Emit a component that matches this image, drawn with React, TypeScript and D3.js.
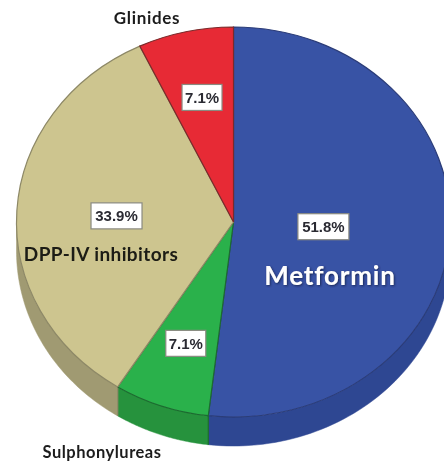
import * as d3 from 'd3';
import React from 'react';

const drugs = ['Metformin', 'Sulphonylureas', 'DPP-IV inhibitors', 'Glinides'];
const shares = [51.8, 7.1, 33.9, 7.1];
const shareLabels = ['51.8%', '7.1%', '33.9%', '7.1%'];

const topColors = ['#3953a5', '#2cb14b', '#cdc58f', '#e72b36'];
const sideColors = ['#2f4792', '#27923c', '#a09a72', '#b82029'];
const edgeColors = ['#2a3c78', '#1c6b30', '#8d8866', '#7a2a2a'];

// how far out along each slice the percent box sits
const boxFractions = [0.415, 0.66, 0.54, 0.655];

const W = 444;
const H = 468;
const cx = 233.5;
const cy = 222;
const rx = 217;
const ry = 195;
const depth = 29;
const squash = ry / rx;

const pie = d3.pie<number>().sort(null).value((d) => d);
const slices = pie(shares);
const arc = d3.arc<d3.PieArcDatum<number>>().innerRadius(0).outerRadius(rx);

function sidePath(a0: number, a1: number) {
  const from = Math.max(a0, Math.PI / 2);
  const to = Math.min(a1, (3 * Math.PI) / 2);
  if (to <= from) return null;
  const angles = d3.range(0, 61).map((i) => from + ((to - from) * i) / 60);
  const line = d3.line<[number, number]>();
  const top = angles.map((a) => [rx * Math.sin(a), -ry * Math.cos(a)] as [number, number]);
  const bottom = top.map(([x, y]) => [x, y + depth] as [number, number]).reverse();
  return line([...top, ...bottom]) + 'Z';
}

const boxW = (s: string) => (s.length > 4 ? 51 : 40);

export default function App() {
  return (
    <svg
      width={W}
      height={H}
      style={{ position: 'absolute', left: 0, top: 0, background: '#fff' }}
    >
      <defs>
        <filter id="soft" x="-5%" y="-5%" width="110%" height="110%">
          <feGaussianBlur stdDeviation="0.5" />
        </filter>
        <filter id="glow" x="-10%" y="-20%" width="120%" height="140%">
          <feDropShadow dx="1" dy="1" stdDeviation="0.8" floodColor="#16234f" floodOpacity="0.9" />
        </filter>
      </defs>
      <g filter="url(#soft)">
        <g transform={`translate(${cx},${cy})`}>
          {slices.map((s, i) => {
            const d = sidePath(s.startAngle, s.endAngle);
            return d ? (
              <path key={i} d={d} fill={sideColors[i]} stroke={sideColors[i]} strokeWidth={0.5} />
            ) : null;
          })}
          {slices.map((s, i) => {
            // seam running down the wall where two slices meet
            const a = s.endAngle;
            if (a <= Math.PI / 2 || a >= (3 * Math.PI) / 2) return null;
            const x = rx * Math.sin(a);
            const y = -ry * Math.cos(a);
            return (
              <line key={i} x1={x} y1={y} x2={x} y2={y + depth} stroke={edgeColors[i + 1]} strokeWidth={1.2} />
            );
          })}
          <g transform={`scale(1,${squash})`}>
            {slices.map((s, i) => (
              <path
                key={i}
                d={arc(s) || ''}
                fill={topColors[i]}
                stroke={edgeColors[i]}
                strokeWidth={1.2}
                vectorEffect="non-scaling-stroke"
              />
            ))}
          </g>
        </g>
        {slices.map((s, i) => {
          const mid = (s.startAngle + s.endAngle) / 2;
          const x = cx + rx * boxFractions[i] * Math.sin(mid);
          const y = cy - ry * boxFractions[i] * Math.cos(mid);
          const w = boxW(shareLabels[i]);
          return (
            <g key={i}>
              <rect
                x={x - w / 2}
                y={y - 13}
                width={w}
                height={26}
                fill="#fff"
                stroke="#8a8a80"
                strokeWidth={1.2}
              />
              <text
                x={x}
                y={y + 5.5}
                textAnchor="middle"
                fontFamily="'Liberation Sans', sans-serif"
                fontWeight="bold"
                fontSize={15}
                fill="#2b2b33"
              >
                {shareLabels[i]}
              </text>
            </g>
          );
        })}
        <text x={147} y={24} textAnchor="middle" fontFamily="Lato, sans-serif" fontWeight="bold" fontSize={17} letterSpacing={0.7} fill="#1c1c1c">
          {drugs[3]}
        </text>
        <text x={102} y={458} textAnchor="middle" fontFamily="Lato, sans-serif" fontWeight="bold" fontSize={16.5} letterSpacing={0.5} fill="#1c1c1c">
          {drugs[1]}
        </text>
        <text x={101} y={261} textAnchor="middle" fontFamily="Lato, sans-serif" fontWeight="bold" fontSize={19} letterSpacing={0.4} fill="#1c1c14">
          {drugs[2]}
        </text>
        <text
          x={330}
          y={285}
          textAnchor="middle"
          fontFamily="Lato, sans-serif"
          fontWeight="bold"
          fontSize={26}
          letterSpacing={0.8}
          fill="#fff"
          filter="url(#glow)"
        >
          {drugs[0]}
        </text>
      </g>
    </svg>
  );
}
